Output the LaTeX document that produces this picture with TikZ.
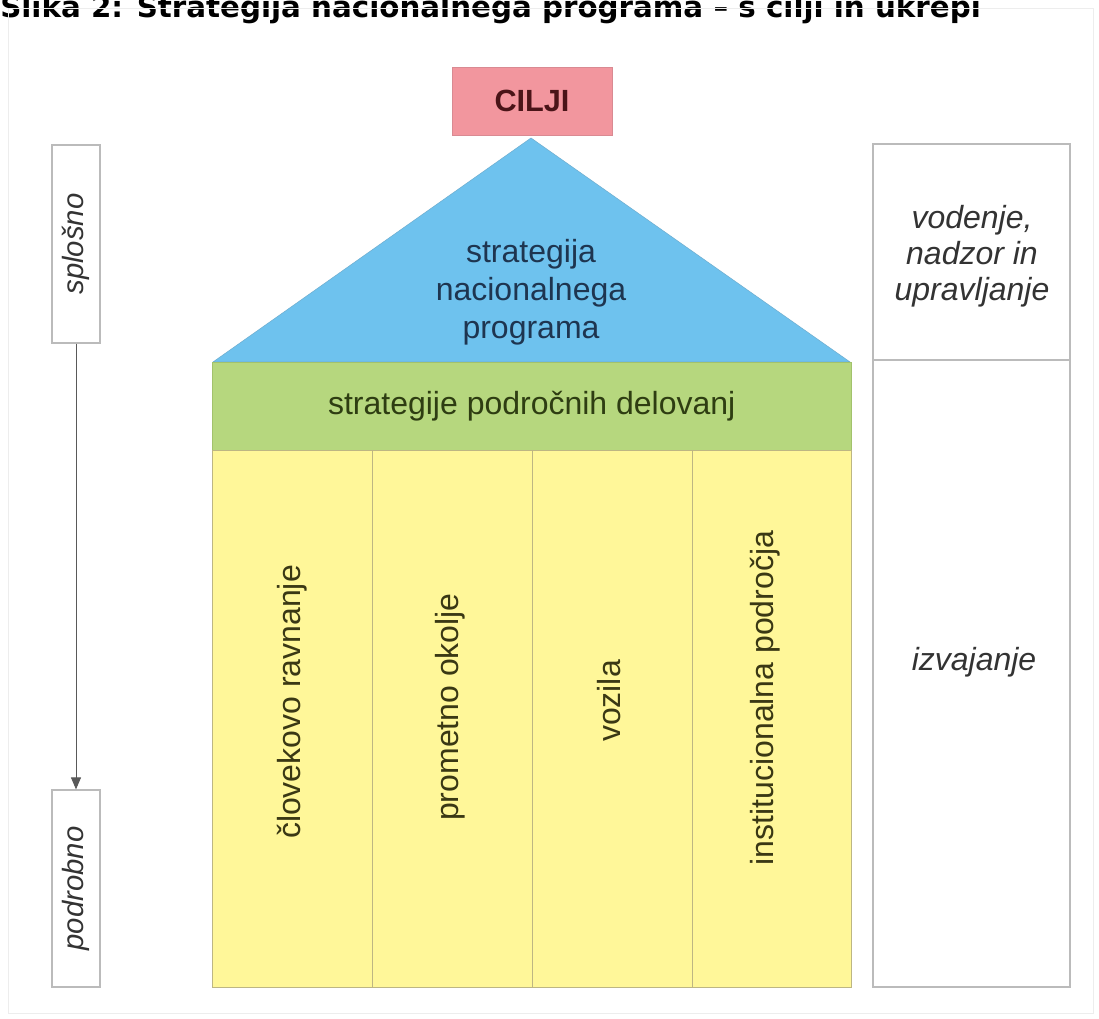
\documentclass[tikz,border=0pt]{standalone}
\usepackage{fontspec}
\setmainfont{Liberation Sans}
\newfontfamily\titlefont{DejaVu Sans}
\usetikzlibrary{arrows.meta}

\definecolor{goalfill}{HTML}{F2969E}
\definecolor{goalline}{HTML}{D98A92}
\definecolor{goaltext}{HTML}{4A1418}
\definecolor{roofblue}{HTML}{6EC2EE}
\definecolor{rooftext}{HTML}{1E3550}
\definecolor{beamgreen}{HTML}{B6D77E}
\definecolor{beamline}{HTML}{A2C26C}
\definecolor{beamtext}{HTML}{2E3D12}
\definecolor{pillar}{HTML}{FFF799}
\definecolor{pillarline}{HTML}{BDB683}
\definecolor{pillartext}{HTML}{3A3814}
\definecolor{frameline}{HTML}{BBBBBB}
\definecolor{sidetext}{HTML}{333333}

\tikzset{
  body/.style={font=\fontsize{24}{28.5}\selectfont},
  goalbox/.style={draw=goalline, fill=goalfill, text=goaltext, inner sep=0pt,
    minimum width=120pt, minimum height=51pt,
    font=\bfseries\fontsize{23}{27}\selectfont},
  pillarbox/.style={draw=pillarline, fill=pillar, inner sep=0pt,
    minimum width=120pt, minimum height=402.75pt},
  pillarlabel/.style={body, rotate=90, text=pillartext, inner sep=0pt},
  sidebox/.style={draw=frameline, line width=0.9pt, inner sep=0pt},
  sidelabel/.style={body, text=sidetext, font=\itshape\fontsize{24}{27}\selectfont,
    align=center, inner sep=0pt},
  scalebox/.style={draw=frameline, line width=0.9pt, rotate=90, inner sep=0pt,
    minimum width=148.5pt, minimum height=36pt, text=sidetext,
    font=\itshape\fontsize{22}{26}\selectfont},
  flow/.style={draw=black!65, line width=0.75pt, -{Triangle[width=7.5pt,length=9pt]}}
}

\begin{document}
\begin{tikzpicture}[x=0.75pt, y=-0.75pt]
\useasboundingbox (0,0) rectangle (1099,1019);
\fill[white] (0,0) rectangle (1099,1019);

% caption above the figure
\node[anchor=base west, inner sep=0pt,
      font=\titlefont\bfseries\fontsize{22}{26}\selectfont] (caption) at (0,18)
  {Slika 2: Strategija nacionalnega programa – s cilji in ukrepi};

% faint frame of the figure
\draw[black!7, line width=0.75pt] (8,9) rectangle (1093,1013);

% goals on top of the roof
\node[goalbox] (goals) at (532,101) {CILJI};

% roof: strategy of the national programme
\filldraw[fill=roofblue, draw=roofblue!85!black!90] (213,362) -- (531,138) -- (850,362) -- cycle;
\node[body, text=rooftext, align=center, inner sep=0pt] (roof) at (531,292)
  {strategija\\nacionalnega\\programa};

% beam: strategies of the action areas
\node[draw=beamline, fill=beamgreen, text=beamtext, body, inner sep=0pt,
      minimum width=479.25pt, minimum height=66pt] (beam) at (531.75,406)
  {strategije področnih delovanj};

% four pillars
\node[pillarbox] (p1) at (292,718.5) {};
\node[pillarbox] (p2) at (452,718.5) {};
\node[pillarbox] (p3) at (612,718.5) {};
\node[pillarbox, minimum width=119.25pt] (p4) at (771.5,718.5) {};

\node[pillarlabel] (l1) at (292,702) {človekovo ravnanje};
\node[pillarlabel] (l2) at (450,707) {prometno okolje};
\node[pillarlabel] (l3) at (609,701) {vozila};
\node[pillarlabel] (l4) at (765,698) {institucionalna področja};

% right column: management and implementation
\node[sidebox, minimum width=147.75pt, minimum height=162pt] (mgmt) at (971.5,252) {};
\node[sidebox, minimum width=147.75pt, minimum height=470.25pt] (impl) at (971.5,673.5) {};
\node[sidelabel] (mgmtlabel) at (972,256) {vodenje,\\nadzor in\\upravljanje};
\node[sidelabel] (impllabel) at (974,662) {izvajanje};

% left scale: from general to detailed
\node[scalebox] (general) at (76,244) {splošno};
\node[scalebox, minimum width=147.75pt] (detailed) at (76,888.5) {podrobno};
\draw[flow] (general) -- (detailed);
\end{tikzpicture}
\end{document}
